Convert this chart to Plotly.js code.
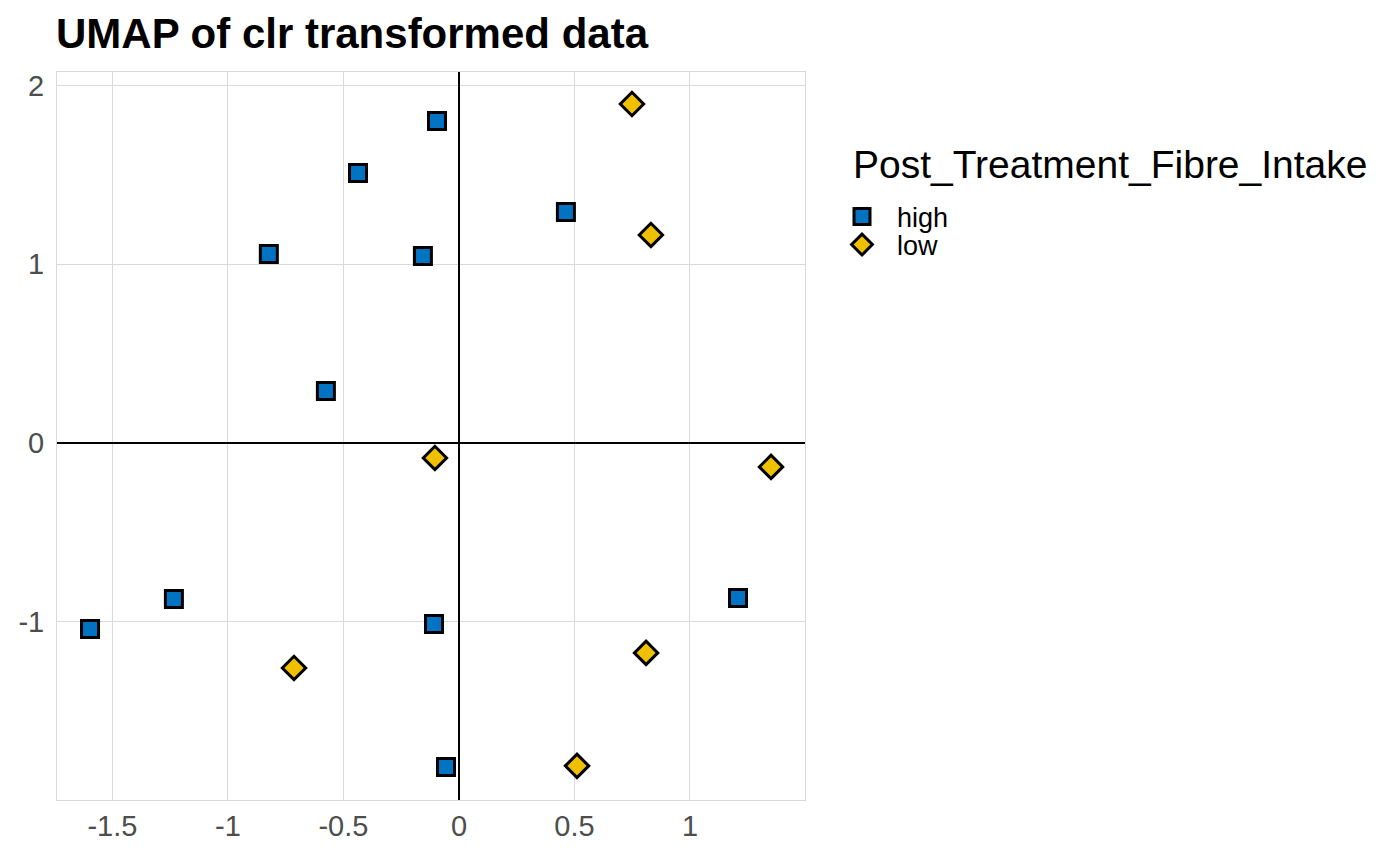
<!DOCTYPE html>
<html>
<head>
<meta charset="utf-8">
<script src="https://cdn.plot.ly/plotly-3.0.1.min.js"></script>
<style>html,body{margin:0;padding:0;background:#fff;}#chart{width:1400px;height:860px;}</style>
</head>
<body>
<div id="chart"></div>
<script>
const highX = [-0.095, -0.437, 0.463, -0.823, -0.156, -0.576, -1.234, -1.597, -0.108, 1.208, -0.056];
const highY = [1.802, 1.511, 1.293, 1.058, 1.046, 0.291, -0.873, -1.041, -1.013, -0.867, -1.813];
const lowX = [0.749, 0.831, -0.104, 1.351, -0.714, 0.810, 0.511];
const lowY = [1.897, 1.164, -0.084, -0.134, -1.259, -1.175, -1.807];
const groups = ["high", "low"];
const legendTitle = "Post_Treatment_Fibre_Intake";
const xTicks = [-1.5, -1, -0.5, 0, 0.5, 1];
const yTicks = [-1, 0, 1, 2];

const font = "Liberation Sans, Arial, sans-serif";
const traces = [
  {x: highX, y: highY, name: groups[0], type: "scatter", mode: "markers", legend: "legend",
   marker: {symbol: "square", size: 17, color: "#0073C2", line: {color: "#000", width: 3}}},
  {x: lowX, y: lowY, name: groups[1], type: "scatter", mode: "markers", legend: "legend2",
   marker: {symbol: "diamond", size: 18, color: "#EFC000", line: {color: "#000", width: 3}}}
];
const axisCommon = {
  showgrid: true, gridcolor: "#D9D9D9", gridwidth: 1,
  zeroline: true, zerolinecolor: "#000", zerolinewidth: 2,
  showline: true, mirror: true, linecolor: "#D9D9D9", linewidth: 1,
  ticks: "", tickfont: {family: font, size: 29, color: "#4D4D4D"},
  tickmode: "array"
};
const legendFont = {family: font, size: 27, color: "#000"};
const legX = (827 - 57) / 748;
const layout = {
  width: 1400, height: 860,
  paper_bgcolor: "#fff", plot_bgcolor: "#fff",
  margin: {l: 57, r: 595, t: 72, b: 60},
  title: {text: "<b>UMAP of clr transformed data</b>", x: 56/1400, xanchor: "left", y: 1 - 33/860, yanchor: "middle",
          font: {family: font, size: 42, color: "#000"}},
  xaxis: Object.assign({}, axisCommon, {range: [-1.740, 1.498], tickvals: xTicks, ticktext: xTicks.map(String)}),
  yaxis: Object.assign({}, axisCommon, {range: [-1.998, 2.076], tickvals: yTicks, ticktext: yTicks.map(String), ticklabelstandoff: 6}),
  showlegend: true,
  annotations: [{text: legendTitle, xref: "paper", yref: "paper", x: (851 - 57) / 748, y: (800 - 164) / 728,
                 xanchor: "left", yanchor: "middle", showarrow: false,
                 font: {family: font, size: 39, color: "#000"}}],
  legend: {x: legX, y: (800 - 217) / 728, xanchor: "left", yanchor: "middle", itemwidth: 60,
           font: legendFont, tracegroupgap: 0, itemsizing: "trace", bgcolor: "rgba(0,0,0,0)"},
  legend2: {x: legX, y: (800 - 245) / 728, xanchor: "left", yanchor: "middle", itemwidth: 60,
           font: legendFont, tracegroupgap: 0, itemsizing: "trace", bgcolor: "rgba(0,0,0,0)"}
};
Plotly.newPlot("chart", traces, layout, {displayModeBar: false});
</script>
</body>
</html>
